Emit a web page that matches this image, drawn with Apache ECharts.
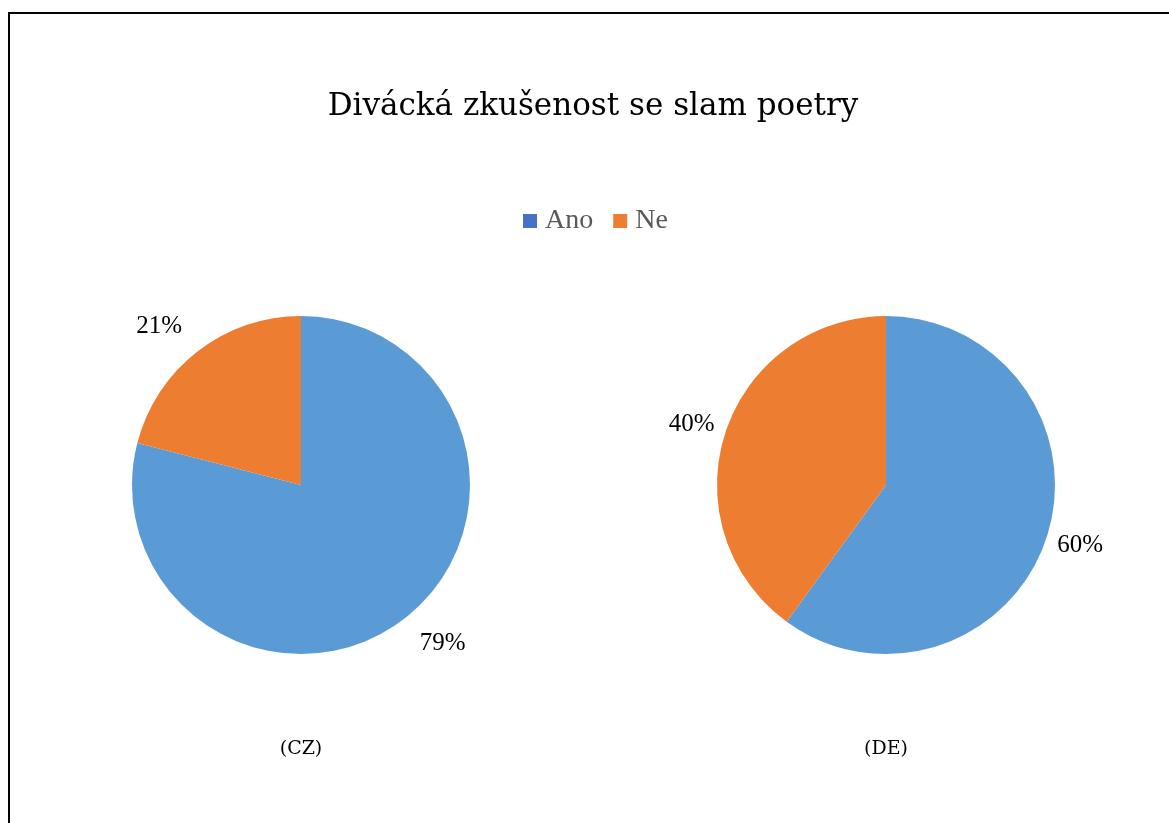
<!DOCTYPE html>
<html>
<head>
<meta charset="utf-8">
<script src="https://cdn.jsdelivr.net/npm/echarts@6/dist/echarts.min.js"></script>
<style>
html,body{margin:0;padding:0;background:#fff;}
#chart{width:1169px;height:823px;}
</style>
</head>
<body>
<div id="chart"></div>
<script>
const chartTitle = 'Divácká zkušenost se slam poetry';
const categories = ['Ano', 'Ne'];
const valuesCZ = [79, 21];
const valuesDE = [60, 40];
const groupLabels = ['(CZ)', '(DE)'];

const pieColors = ['#5B9BD5', '#ED7D31'];
const legendColors = ['#4472C4', '#ED7D31'];
const centers = [[301, 485], [886, 485]];
const radius = 169;
const allValues = [valuesCZ, valuesDE];

function midAngle(vals, idx) {
  const total = vals.reduce((a, b) => a + b, 0);
  let cum = 0;
  for (let i = 0; i < idx; i++) cum += vals[i];
  return ((cum + vals[idx] / 2) / total) * Math.PI * 2;
}

const chart = echarts.init(document.getElementById('chart'));

function makeSeries(si) {
  const vals = allValues[si];
  return {
    type: 'pie',
    name: groupLabels[si],
    center: centers[si],
    radius: radius,
    startAngle: 90,
    clockwise: true,
    silent: true,
    animation: false,
    data: categories.map((c, i) => ({
      name: c,
      value: vals[i],
      itemStyle: { color: pieColors[i] }
    })),
    itemStyle: { borderWidth: 0 },
    label: {
      show: true,
      position: 'outside',
      formatter: (p) => Math.round(p.percent) + '%',
      fontFamily: 'Liberation Serif',
      fontSize: 25,
      color: '#000'
    },
    labelLine: { show: false },
    labelLayout: function (params) {
      const a = midAngle(vals, params.dataIndex);
      const c = centers[si];
      const dx = Math.sin(a), dy = -Math.cos(a);
      const r = 202 + 16 * dy * dy;
      const tg = -24 * dy * dy;
      return {
        x: c[0] + r * dx + tg * (-dy),
        y: c[1] + r * dy + tg * dx,
        align: 'center',
        verticalAlign: 'middle'
      };
    }
  };
}

const option = {
  backgroundColor: '#fff',
  title: [
    {
      text: chartTitle,
      left: 593,
      top: 91,
      padding: 0,
      textAlign: 'center',
      textStyle: { fontFamily: 'DejaVu Serif', fontSize: 31, fontWeight: 'normal', color: '#000' }
    },
    {
      text: groupLabels[0],
      left: centers[0][0],
      top: 740,
      padding: 0,
      textAlign: 'center',
      textStyle: { fontFamily: 'DejaVu Serif', fontSize: 19, fontWeight: 'normal', color: '#000' }
    },
    {
      text: groupLabels[1],
      left: centers[1][0],
      top: 740,
      padding: 0,
      textAlign: 'center',
      textStyle: { fontFamily: 'DejaVu Serif', fontSize: 19, fontWeight: 'normal', color: '#000' }
    }
  ],
  legend: {
    top: 207,
    left: 523,
    padding: 0,
    itemWidth: 14,
    itemHeight: 14,
    itemGap: 20,
    icon: 'rect',
    selectedMode: false,
    data: categories.map((c, i) => ({ name: c, itemStyle: { color: legendColors[i] } })),
    textStyle: { fontFamily: 'Liberation Serif', fontSize: 28, color: '#595959', padding: [0, 0, 0, 3] }
  },
  graphic: [
    {
      type: 'rect',
      silent: true,
      shape: { x: 9, y: 13, width: 1300, height: 1000 },
      style: { fill: 'none', stroke: '#000', lineWidth: 2 }
    }
  ],
  series: [makeSeries(0), makeSeries(1)]
};

chart.setOption(option);
</script>
</body>
</html>
